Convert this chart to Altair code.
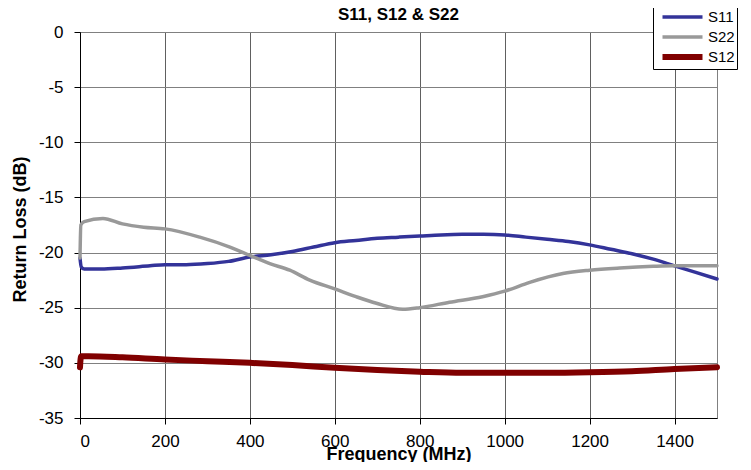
import altair as alt
import pandas as pd

# ---- data ----
s11_freq = [0, 3, 10, 50, 100, 165, 200, 250, 300, 350, 400, 450, 500, 550, 600, 650, 700,
            750, 800, 850, 900, 950, 1000, 1050, 1100, 1150, 1200, 1250, 1300, 1350, 1400, 1450, 1500]
s11_db = [-20.5, -21.3, -21.5, -21.5, -21.4, -21.2, -21.1, -21.1, -21.0, -20.8, -20.4, -20.2, -19.9,
          -19.5, -19.1, -18.9, -18.7, -18.6, -18.5, -18.4, -18.35, -18.35, -18.4, -18.6, -18.8,
          -19.0, -19.3, -19.7, -20.1, -20.6, -21.2, -21.8, -22.4]

s22_freq = [0, 2, 10, 54, 100, 150, 200, 282, 353, 400, 447, 494, 541, 600, 650, 698, 760, 800,
            870, 948, 1000, 1059, 1137, 1200, 1271, 1350, 1400, 1500]
s22_db = [-20.5, -17.5, -17.2, -16.9, -17.4, -17.7, -17.85, -18.6, -19.5, -20.25, -21.0, -21.6,
          -22.5, -23.3, -24.0, -24.6, -25.15, -25.0, -24.5, -24.0, -23.5, -22.7, -21.9, -21.6,
          -21.4, -21.25, -21.2, -21.2]

s12_freq = [0, 1, 3, 20, 100, 200, 300, 400, 500, 600, 700, 800, 900, 1000, 1100, 1200, 1300, 1400, 1500]
s12_db = [-30.4, -29.8, -29.4, -29.4, -29.5, -29.7, -29.85, -30.0, -30.2, -30.45, -30.65, -30.8,
          -30.9, -30.9, -30.9, -30.85, -30.75, -30.55, -30.4]

series_names = ["S11", "S22", "S12"]
series_colors = ["#333399", "#999999", "#800000"]

x_ticks = [0, 200, 400, 600, 800, 1000, 1200, 1400]
y_ticks = [-35, -30, -25, -20, -15, -10, -5, 0]

rows = []
for name, fs, ds in [("S11", s11_freq, s11_db), ("S22", s22_freq, s22_db), ("S12", s12_freq, s12_db)]:
    for f, d in zip(fs, ds):
        rows.append({"series": name, "freq": f, "db": d})
df = pd.DataFrame(rows)

FONT = "Liberation Sans"

chart = alt.Chart(df).mark_line(interpolate="monotone", strokeCap="round", strokeJoin="round").encode(
    x=alt.X("freq:Q",
            scale=alt.Scale(domain=[0, 1500], nice=False, zero=False),
            axis=alt.Axis(values=x_ticks, title="Frequency (MHz)", grid=True, gridColor="#606060",
                          labelPadding=9, labelExpr="toString(datum.value)",
                          titleBaseline="alphabetic", titleY=41)),
    y=alt.Y("db:Q",
            scale=alt.Scale(domain=[-35, 0], nice=False, zero=False),
            axis=alt.Axis(values=y_ticks, title="Return Loss (dB)", grid=True, gridColor="#808080",
                          labelPadding=11, labelExpr="toString(datum.value)",
                          titleX=-60, titleY=197, titleBaseline="middle", titleAlign="center",
                          titleAngle=270)),
    color=alt.Color("series:N", scale=alt.Scale(domain=series_names, range=series_colors),
                    legend=alt.Legend(
                        title=None, orient="none", legendX=573, legendY=-27,
                        strokeColor="black", fillColor="white", padding=2,
                        symbolType="stroke", symbolSize=1600, clipHeight=20, rowPadding=0,
                        symbolOffset=20,
                        symbolStrokeWidth=alt.ExprRef("datum.value == 'S12' ? 6 : 3.5"),
                        labelFont=FONT, labelFontSize=15, labelColor="black", labelOffset=18)),
    strokeWidth=alt.condition(alt.datum.series == "S12", alt.value(6), alt.value(3.5)),
).properties(
    width=637, height=386,
    title=alt.Title("S11, S12 & S22", font=FONT, fontSize=17, fontWeight="bold", color="black",
                    offset=0, dy=19),
    autosize=alt.AutoSizeParams(type="none"),
    padding={"left": 72, "top": 24, "right": 26, "bottom": 44},
).configure_view(
    stroke="#808080", strokeWidth=1
).configure_axis(
    labelFont=FONT, labelFontSize=17, labelColor="black",
    titleFont=FONT, titleFontSize=18, titleFontWeight="bold", titleColor="black",
    domainColor="black", domainWidth=1, tickColor="black", tickSize=6,
    gridOpacity=1, gridWidth=1,
)

chart.save("out.html", embed_options={"renderer": "svg", "actions": False})
